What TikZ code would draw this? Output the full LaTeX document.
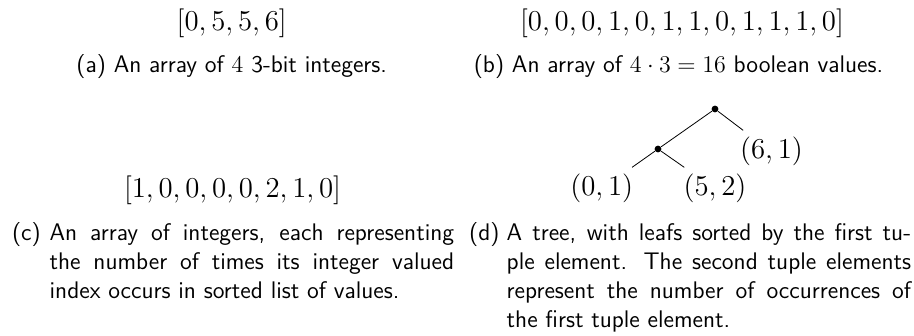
\documentclass[tikz,border=0pt]{standalone}
\begin{document}
\begin{tikzpicture}[x=0.5pt,y=-0.5pt,
  arr/.style={anchor=base,inner sep=0pt,font=\Large},
  capone/.style={anchor=base,inner sep=0pt,font=\fontsize{12}{14.5}\selectfont\sffamily},
  capbox/.style={anchor=base west,inner sep=0pt,font=\fontsize{12}{14.5}\selectfont\sffamily,text width=221pt,align=justify},
  dot/.style={circle,fill,inner sep=0pt,minimum size=3.4pt},
  leaf/.style={anchor=base,font=\Large}]
\useasboundingbox (0,0) rectangle (914,336);
% (a)
\node[arr] (arrA) at (231.7,31) {$[0,5,5,6]$};
\node[capone] (capA) at (231.7,73) {(a) An array of $4$ 3-bit integers.};
% (b)
\node[arr] (arrB) at (682,31) {$[0,0,0,1,0,1,1,0,1,1,1,0]$};
\node[capone] (capB) at (678.5,73) {(b) An array of $4\cdot 3=16$ boolean values.};
% (c)
\node[arr] (arrC) at (232.5,198) {$[1,0,0,0,0,2,1,0]$};
\node[capbox] (capC) at (11.7,240.5) {\hangindent=18.8pt\hangafter=1\makebox[18.8pt][l]{(c)}An array of integers, each representing\linebreak the number of times its integer valued\linebreak index occurs in sorted list of values.\par};
% (d)
\node[dot] (root) at (715,109) {};
\node[dot] (mid) at (658,149) {};
\node[leaf] (l61) at (771.5,159) {$(6,1)$};
\node[leaf] (l01) at (601.7,196) {$(0,1)$};
\node[leaf] (l52) at (715,196) {$(5,2)$};
\draw (root) -- (mid);
\draw (root) -- (l61);
\draw (mid) -- (l01);
\draw (mid) -- (l52);
\node[capbox] (capD) at (468.7,240.5) {\hangindent=18.8pt\hangafter=1\makebox[18.8pt][l]{(d)}A tree, with leafs sorted by the first tu-\linebreak ple element. The second tuple elements\linebreak represent the number of occurrences of\linebreak the first tuple element.\par};
\end{tikzpicture}
\end{document}
